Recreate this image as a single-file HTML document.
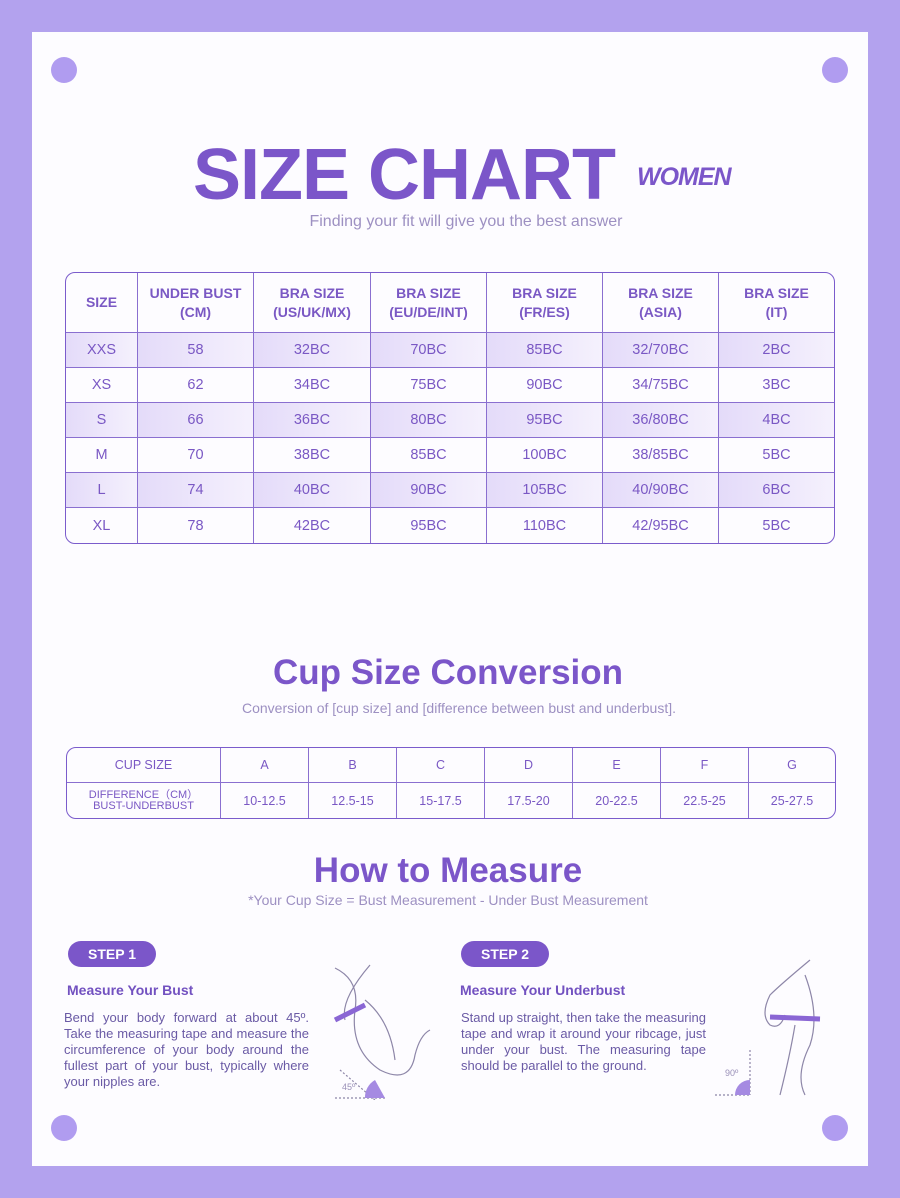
<!DOCTYPE html>
<html><head><meta charset="utf-8"><style>
*{margin:0;padding:0;box-sizing:border-box}
body{width:900px;height:1198px;background:#b3a2ee;font-family:"Liberation Sans",sans-serif;position:relative;overflow:hidden}
.card{position:absolute;left:32px;top:32px;width:836px;height:1134px;background:#fdfcff}
.dot{position:absolute;width:26px;height:26px;border-radius:50%;background:#b09cf0}
.abs{position:absolute}
.title{left:193px;top:134px;white-space:nowrap;font-weight:bold;font-size:72px;color:#7b56c9;letter-spacing:-1px}
table{border-collapse:separate;border-spacing:0;position:absolute;color:#7a58c4;text-align:center}
td{border-right:1px solid #8a6fd0;border-bottom:1px solid #8a6fd0}
td:last-child{border-right:none}
tr:last-child td{border-bottom:none}
.t1{left:65px;top:272px;width:770px;border:1.5px solid #7b5ccc;border-radius:10px;font-size:14.5px;overflow:hidden}
.t1 .h td{height:60px;font-weight:bold;font-size:14px;line-height:19px}
.t1 td{height:35px}
.sh td{background:linear-gradient(90deg,#e4dbf9,#f5f1fd)}
.t2{left:66px;top:747px;width:770px;border:1.5px solid #7b5ccc;border-radius:10px;font-size:12.5px;overflow:hidden}
.t2 td{height:35px}
.step{background:#7b56c9;color:#fff;font-weight:bold;font-size:14px;width:88px;height:26px;border-radius:13px;text-align:center;line-height:26px}
.h3{font-weight:bold;font-size:14px;color:#7251c0}
.p{font-size:13px;line-height:16px;color:#6a5aa5;text-align:justify;width:245px}
</style></head><body>
<div class="card"></div>
<div class="dot" style="left:51px;top:57px"></div><div class="dot" style="left:822px;top:57px"></div>
<div class="dot" style="left:51px;top:1115px"></div><div class="dot" style="left:822px;top:1115px"></div>
<div class="abs title">SIZE CHART<span style="font-size:25px;font-style:italic;margin-left:22px;vertical-align:14px">WOMEN</span></div>
<div class="abs" style="left:0;width:932px;top:213px;text-align:center;font-size:16px;color:#9d90c2">Finding your fit will give you the best answer</div>
<table class="t1">
<colgroup><col style="width:72px"><col style="width:116px"><col style="width:117px"><col style="width:116px"><col style="width:116px"><col style="width:116px"><col></colgroup>
<tr class="h"><td>SIZE</td><td>UNDER BUST<br>(CM)</td><td>BRA SIZE<br>(US/UK/MX)</td><td>BRA SIZE<br>(EU/DE/INT)</td><td>BRA SIZE<br>(FR/ES)</td><td>BRA SIZE<br>(ASIA)</td><td>BRA SIZE<br>(IT)</td></tr>
<tr class="sh"><td>XXS</td><td>58</td><td>32BC</td><td>70BC</td><td>85BC</td><td>32/70BC</td><td>2BC</td></tr>
<tr><td>XS</td><td>62</td><td>34BC</td><td>75BC</td><td>90BC</td><td>34/75BC</td><td>3BC</td></tr>
<tr class="sh"><td>S</td><td>66</td><td>36BC</td><td>80BC</td><td>95BC</td><td>36/80BC</td><td>4BC</td></tr>
<tr><td>M</td><td>70</td><td>38BC</td><td>85BC</td><td>100BC</td><td>38/85BC</td><td>5BC</td></tr>
<tr class="sh"><td>L</td><td>74</td><td>40BC</td><td>90BC</td><td>105BC</td><td>40/90BC</td><td>6BC</td></tr>
<tr><td>XL</td><td>78</td><td>42BC</td><td>95BC</td><td>110BC</td><td>42/95BC</td><td>5BC</td></tr>
</table>
<div class="abs" style="left:0;width:896px;top:653px;text-align:center;font-weight:bold;font-size:35px;color:#7b56c9">Cup Size Conversion</div>
<div class="abs" style="left:0;width:918px;top:700px;text-align:center;font-size:14px;color:#9d90c2">Conversion of [cup size] and [difference between bust and underbust].</div>
<table class="t2">
<colgroup><col style="width:154px"><col style="width:88px"><col style="width:88px"><col style="width:88px"><col style="width:88px"><col style="width:88px"><col style="width:88px"><col></colgroup>
<tr><td>CUP SIZE</td><td>A</td><td>B</td><td>C</td><td>D</td><td>E</td><td>F</td><td>G</td></tr>
<tr><td style="font-size:11px;line-height:11px">DIFFERENCE（CM）<br>BUST-UNDERBUST</td><td>10-12.5</td><td>12.5-15</td><td>15-17.5</td><td>17.5-20</td><td>20-22.5</td><td>22.5-25</td><td>25-27.5</td></tr>
</table>
<div class="abs" style="left:0;width:896px;top:851px;text-align:center;font-weight:bold;font-size:35px;color:#7b56c9">How to Measure</div>
<div class="abs" style="left:0;width:896px;top:892px;text-align:center;font-size:14px;color:#9d90c2">*Your Cup Size = Bust Measurement - Under Bust Measurement</div>
<div class="abs step" style="left:68px;top:941px">STEP 1</div>
<div class="abs step" style="left:461px;top:941px">STEP 2</div>
<div class="abs h3" style="left:67px;top:982px">Measure Your Bust</div>
<div class="abs h3" style="left:460px;top:982px">Measure Your Underbust</div>
<div class="abs p" style="left:64px;top:1010px">Bend your body forward at about 45º. Take the measuring tape and measure the circumference of your body around the fullest part of your bust, typically where your nipples are.</div>
<div class="abs p" style="left:461px;top:1010px">Stand up straight, then take the measuring tape and wrap it around your ribcage, just under your bust. The measuring tape should be parallel to the ground.</div>
<svg class="abs" style="left:320px;top:960px" width="120" height="140" fill="none" stroke="#8d86a8" stroke-width="1.2">
<path d="M15 8 Q40 20 35 50 Q30 90 60 110 Q90 125 95 95 Q100 75 110 70"/><path d="M50 5 Q20 40 25 60"/><path d="M45 40 Q70 60 75 100"/>
<path d="M15 60 L45 45" stroke="#8a66d4" stroke-width="5"/>
<path d="M20 110 L55 140" stroke-dasharray="2 2"/><path d="M15 138 L65 138" stroke-dasharray="2 2"/>
<path d="M45 138 A20 20 0 0 1 55 120 L65 138 Z" fill="#a58ae2" stroke="none"/>
<text x="22" y="130" font-size="9" fill="#9a90b8" stroke="none" font-family="Liberation Sans">45º</text></svg>
<svg class="abs" style="left:710px;top:955px" width="120" height="145" fill="none" stroke="#8d86a8" stroke-width="1.2">
<path d="M100 5 Q70 30 60 40 Q50 60 60 70 Q70 75 75 60"/><path d="M95 20 Q110 60 100 90 Q85 120 95 140"/><path d="M85 70 Q80 100 70 140"/>
<path d="M60 62 L110 64" stroke="#8a66d4" stroke-width="5"/>
<path d="M40 95 L40 140" stroke-dasharray="2 2"/><path d="M5 140 L40 140" stroke-dasharray="2 2"/>
<path d="M25 140 A15 15 0 0 1 40 125 L40 140 Z" fill="#a58ae2" stroke="none"/>
<text x="15" y="121" font-size="9" fill="#9a90b8" stroke="none" font-family="Liberation Sans">90º</text></svg>
</body></html>
